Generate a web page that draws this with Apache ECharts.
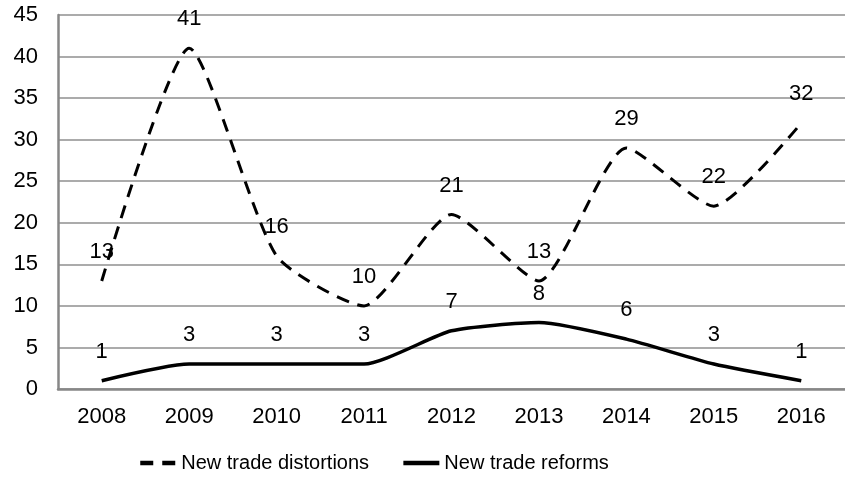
<!DOCTYPE html>
<html>
<head>
<meta charset="utf-8">
<script src="https://cdn.jsdelivr.net/npm/echarts@6/dist/echarts.min.js"></script>
<style>
html, body { margin: 0; padding: 0; background: #fff; }
#container { width: 845px; height: 483px; }
</style>
</head>
<body>
<div id="container"></div>
<script>
var years = ['2008', '2009', '2010', '2011', '2012', '2013', '2014', '2015', '2016'];
var distortions = [13, 41, 16, 10, 21, 13, 29, 22, 32];
var reforms = [1, 3, 3, 3, 7, 8, 6, 3, 1];

var dom = document.getElementById("container");
var myChart = echarts.init(dom);

var font = '"Liberation Sans", Arial, sans-serif';

// labels sit above each point
function pointLabel() {
    return {
        show: true,
        position: 'top',
        distance: 18,
        fontFamily: font,
        fontSize: 22,
        color: '#000'
    };
}

var option = {
    backgroundColor: '#ffffff',
    animation: false,
    grid: {
        left: 58,
        right: 0,
        top: 15,
        bottom: 94
    },
    legend: {
        bottom: 5,
        left: 133,
        itemWidth: 36,
        itemHeight: 14,
        itemGap: 32,
        itemStyle: { opacity: 0 },
        lineStyle: { width: 4.5 },
        textStyle: { fontFamily: font, fontSize: 20, color: '#000' },
        data: ['New trade distortions', 'New trade reforms']
    },
    xAxis: {
        type: 'category',
        data: years,
        boundaryGap: true,
        axisLine: { lineStyle: { color: '#878787', width: 2.5 } },
        axisTick: { show: false },
        axisLabel: { fontFamily: font, fontSize: 22, color: '#000', margin: 17 }
    },
    yAxis: {
        type: 'value',
        min: 0,
        max: 45,
        interval: 5,
        axisLine: { show: true, lineStyle: { color: '#878787', width: 2.5 } },
        axisTick: { show: false },
        splitLine: { lineStyle: { color: '#8f8f8f', width: 1.5 } },
        axisLabel: { fontFamily: font, fontSize: 22, color: '#000', margin: 20 }
    },
    series: [
        {
            name: 'New trade distortions',
            type: 'line',
            data: distortions,
            smooth: 0.2,
            symbol: 'circle',
            symbolSize: 0,
            lineStyle: { color: '#000', width: 3, type: [13, 9] },
            itemStyle: { color: '#000' },
            label: pointLabel()
        },
        {
            name: 'New trade reforms',
            type: 'line',
            data: reforms,
            smooth: 0.2,
            symbol: 'circle',
            symbolSize: 0,
            lineStyle: { color: '#000', width: 3.5 },
            itemStyle: { color: '#000' },
            label: pointLabel()
        }
    ]
};

myChart.setOption(option, true);
</script>
</body>
</html>
